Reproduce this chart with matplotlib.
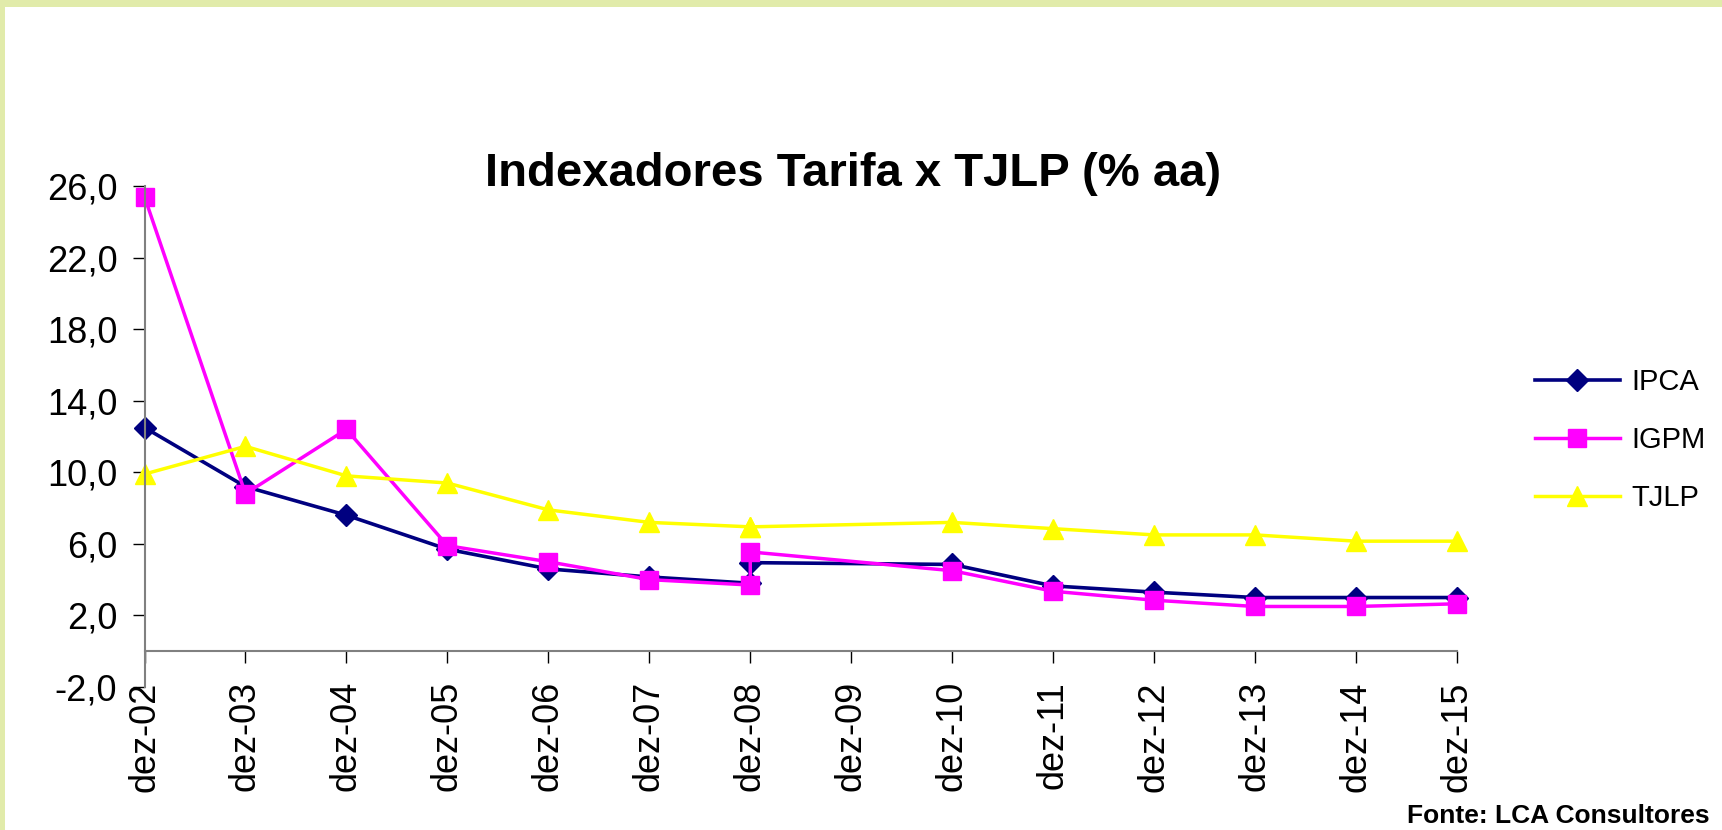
import matplotlib
matplotlib.use("Agg")
import matplotlib.pyplot as plt
from matplotlib.patches import Rectangle
from matplotlib.ticker import FuncFormatter, FixedLocator

# categories on the axis (dez-09 has no point, dez-08 appears twice in the data)
axis_labels = ['dez-02', 'dez-03', 'dez-04', 'dez-05', 'dez-06', 'dez-07', 'dez-08',
               'dez-09', 'dez-10', 'dez-11', 'dez-12', 'dez-13', 'dez-14', 'dez-15']
dates = ['dez-02', 'dez-03', 'dez-04', 'dez-05', 'dez-06', 'dez-07', 'dez-08',
         'dez-08', 'dez-10', 'dez-11', 'dez-12', 'dez-13', 'dez-14', 'dez-15']

ipca = [12.5, 9.2, 7.6, 5.7, 4.6, 4.15, 3.8, 4.95, 4.85, 3.65, 3.3, 3.0, 3.0, 3.0]
igpm = [25.4, 8.8, 12.4, 5.9, 5.0, 4.0, 3.7, 5.55, 4.5, 3.35, 2.85, 2.5, 2.5, 2.65]
tjlp = [9.9, 11.45, 9.8, 9.4, 7.9, 7.2, 6.95, 6.95, 7.2, 6.85, 6.5, 6.5, 6.15, 6.15]

yticks = [-2, 2, 6, 10, 14, 18, 22, 26]

title = 'Indexadores Tarifa x TJLP (% aa)'
fonte = 'Fonte: LCA Consultores'

plt.rcParams['font.family'] = ['Liberation Sans', 'DejaVu Sans']

fig = plt.figure(figsize=(17.22, 8.30), dpi=100, facecolor='#E1EBAA')
fig.patches.append(Rectangle((5 / 1722, 0), 1, 1 - 7 / 830, transform=fig.transFigure,
                             facecolor='white', edgecolor='none', zorder=-1))

ax = fig.add_axes([144.5 / 1722, 1 - 687 / 830, (1457 - 144.5) / 1722, (687 - 186) / 830])
ax.set_facecolor('none')

x = [axis_labels.index(d) for d in dates]

ax.plot(x, ipca, color='#000080', lw=2.6, marker='D', ms=11, label='IPCA', clip_on=False)
ax.plot(x, igpm, color='#FF00FF', lw=2.5, marker='s', ms=13, label='IGPM', clip_on=False)
ax.plot(x, tjlp, color='#FFFF00', lw=2.5, marker='^', ms=15, label='TJLP', clip_on=False)

ax.set_xlim(0, len(axis_labels) - 1)
ax.set_ylim(yticks[0], yticks[-1])

ax.spines['top'].set_visible(False)
ax.spines['right'].set_visible(False)
ax.spines['bottom'].set_position(('data', 0))
for s in ['left', 'bottom']:
    ax.spines[s].set_color('#808080')
    ax.spines[s].set_linewidth(1.5)

ax.xaxis.set_major_locator(FixedLocator(range(len(axis_labels))))
ax.set_xticklabels(axis_labels, rotation=90, fontsize=26)
ax.set_yticks(yticks)
ax.yaxis.set_major_formatter(FuncFormatter(lambda v, p: f'{v:.1f}'.replace('.', ',')))
ax.tick_params(axis='y', labelsize=26, length=8.6, width=1, pad=11, color='black')
ax.tick_params(axis='x', length=8.6, width=1, pad=13, color='black')

fig.text(853 / 1722, 1 - 186 / 830, title, ha='center', va='baseline', fontsize=34,
         fontweight='bold')
fig.text(1710 / 1722, 1 - 822.7 / 830, fonte, ha='right', va='baseline', fontsize=19,
         fontweight='bold')

ax.legend(loc='center left', bbox_to_anchor=(1535 / 1722, 1 - 440 / 830),
          bbox_transform=fig.transFigure, frameon=False, fontsize=21,
          handlelength=2.9, handletextpad=0.4, labelspacing=1.02,
          borderpad=0, borderaxespad=0)

fig.savefig('out.png', dpi=100, facecolor=fig.get_facecolor())
